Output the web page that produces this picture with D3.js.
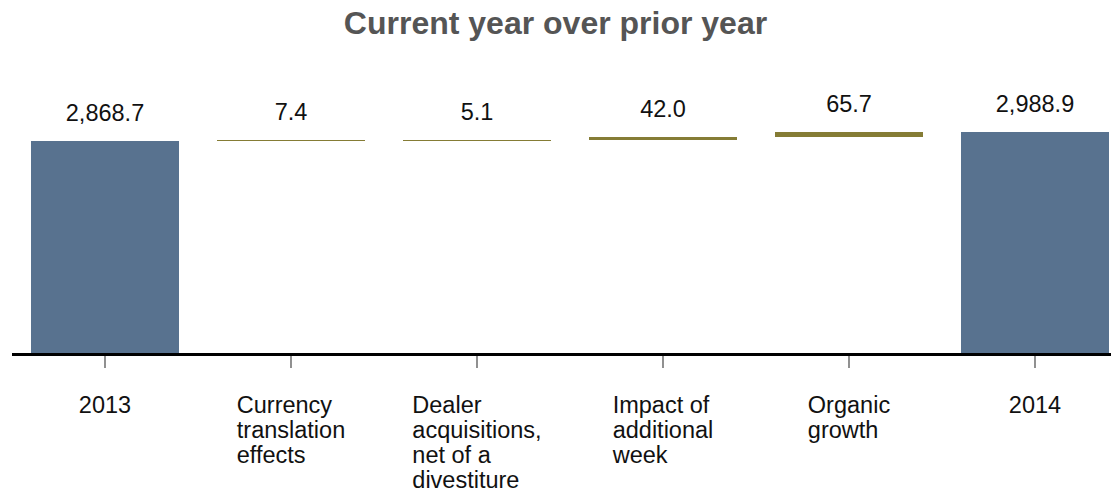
<!DOCTYPE html>
<html>
<head>
<meta charset="utf-8">
<script src="https://cdn.jsdelivr.net/npm/d3@7"></script>
<style>
  html, body { margin: 0; padding: 0; background: #fff; }
  svg { display: block; }
  text { font-family: "Liberation Sans", Arial, sans-serif; }
</style>
</head>
<body>
<svg id="chart" width="1111" height="502"></svg>
<script>
// ---- data ----
const title = "Current year over prior year";
const categories = [
  "2013",
  "Currency\ntranslation\neffects",
  "Dealer\nacquisitions,\nnet of a\ndivestiture",
  "Impact of\nadditional\nweek",
  "Organic\ngrowth",
  "2014"
];
const values = [2868.7, 7.4, 5.1, 42.0, 65.7, 2988.9];
const valueLabels = ["2,868.7", "7.4", "5.1", "42.0", "65.7", "2,988.9"];
const kinds = ["total", "delta", "delta", "delta", "delta", "total"];

// ---- layout ----
const W = 1111, H = 502;
const svg = d3.select("#chart");
const baseY = 354;
const pxPerUnit = 1 / 13.468;

const x = d3.scaleBand()
  .domain(categories)
  .range([12, 1128])
  .paddingInner(0.2)
  .paddingOuter(0.1);

const y = d3.scaleLinear()
  .domain([0, 3000])
  .range([baseY, baseY - 3000 * pxPerUnit]);

// compute waterfall segments
let running = 0;
const segs = categories.map((c, i) => {
  let start, end;
  if (kinds[i] === "total") { start = 0; end = values[i]; running = values[i]; }
  else { start = running; end = running + values[i]; running = end; }
  return { cat: c, start, end, kind: kinds[i], label: valueLabels[i] };
});

const BLUE = "#58728F";
const OLIVE = "#857C35";

// title
svg.append("text")
  .attr("x", W / 2)
  .attr("y", 34)
  .attr("text-anchor", "middle")
  .attr("font-size", 32)
  .attr("font-weight", "bold")
  .attr("fill", "#555555")
  .text(title);

// bars
svg.append("g").selectAll("rect")
  .data(segs)
  .join("rect")
  .attr("shape-rendering", "crispEdges")
  .attr("x", d => x(d.cat))
  .attr("width", x.bandwidth())
  .attr("y", d => Math.round(y(Math.max(d.start, d.end))))
  .attr("height", d => Math.max(1, Math.round(Math.abs(y(d.start) - y(d.end)))))
  .attr("fill", d => d.kind === "total" ? BLUE : OLIVE);

// value labels
svg.append("g").selectAll("text")
  .data(segs)
  .join("text")
  .attr("x", d => x(d.cat) + x.bandwidth() / 2)
  .attr("y", d => y(Math.max(d.start, d.end)) - 20)
  .attr("text-anchor", "middle")
  .attr("font-size", 23.5)
  .attr("fill", "#111")
  .text(d => d.label);

// axis
const axis = d3.axisBottom(x).tickSize(12).tickFormat("");
const gAxis = svg.append("g").attr("transform", `translate(0,${baseY + 2})`).call(axis);
gAxis.select(".domain").remove();
gAxis.selectAll(".tick line").attr("stroke", "#555").attr("stroke-width", 1.3);

svg.append("line")
  .attr("x1", 12).attr("x2", W)
  .attr("y1", baseY + 0.5).attr("y2", baseY + 0.5)
  .attr("stroke", "#000").attr("stroke-width", 3);

// category labels: left-aligned block centred on tick
const lab = svg.append("g");
categories.forEach(c => {
  const lines = c.split("\n");
  const t = lab.append("text")
    .attr("font-size", 23.5)
    .attr("fill", "#111");
  lines.forEach((ln, i) => {
    t.append("tspan").attr("y", 413 + i * 25).text(ln);
  });
  let maxW = 0;
  t.selectAll("tspan").each(function() { maxW = Math.max(maxW, this.getComputedTextLength()); });
  const cx = x(c) + x.bandwidth() / 2;
  t.selectAll("tspan").attr("x", cx - maxW / 2);
});
</script>
</body>
</html>
